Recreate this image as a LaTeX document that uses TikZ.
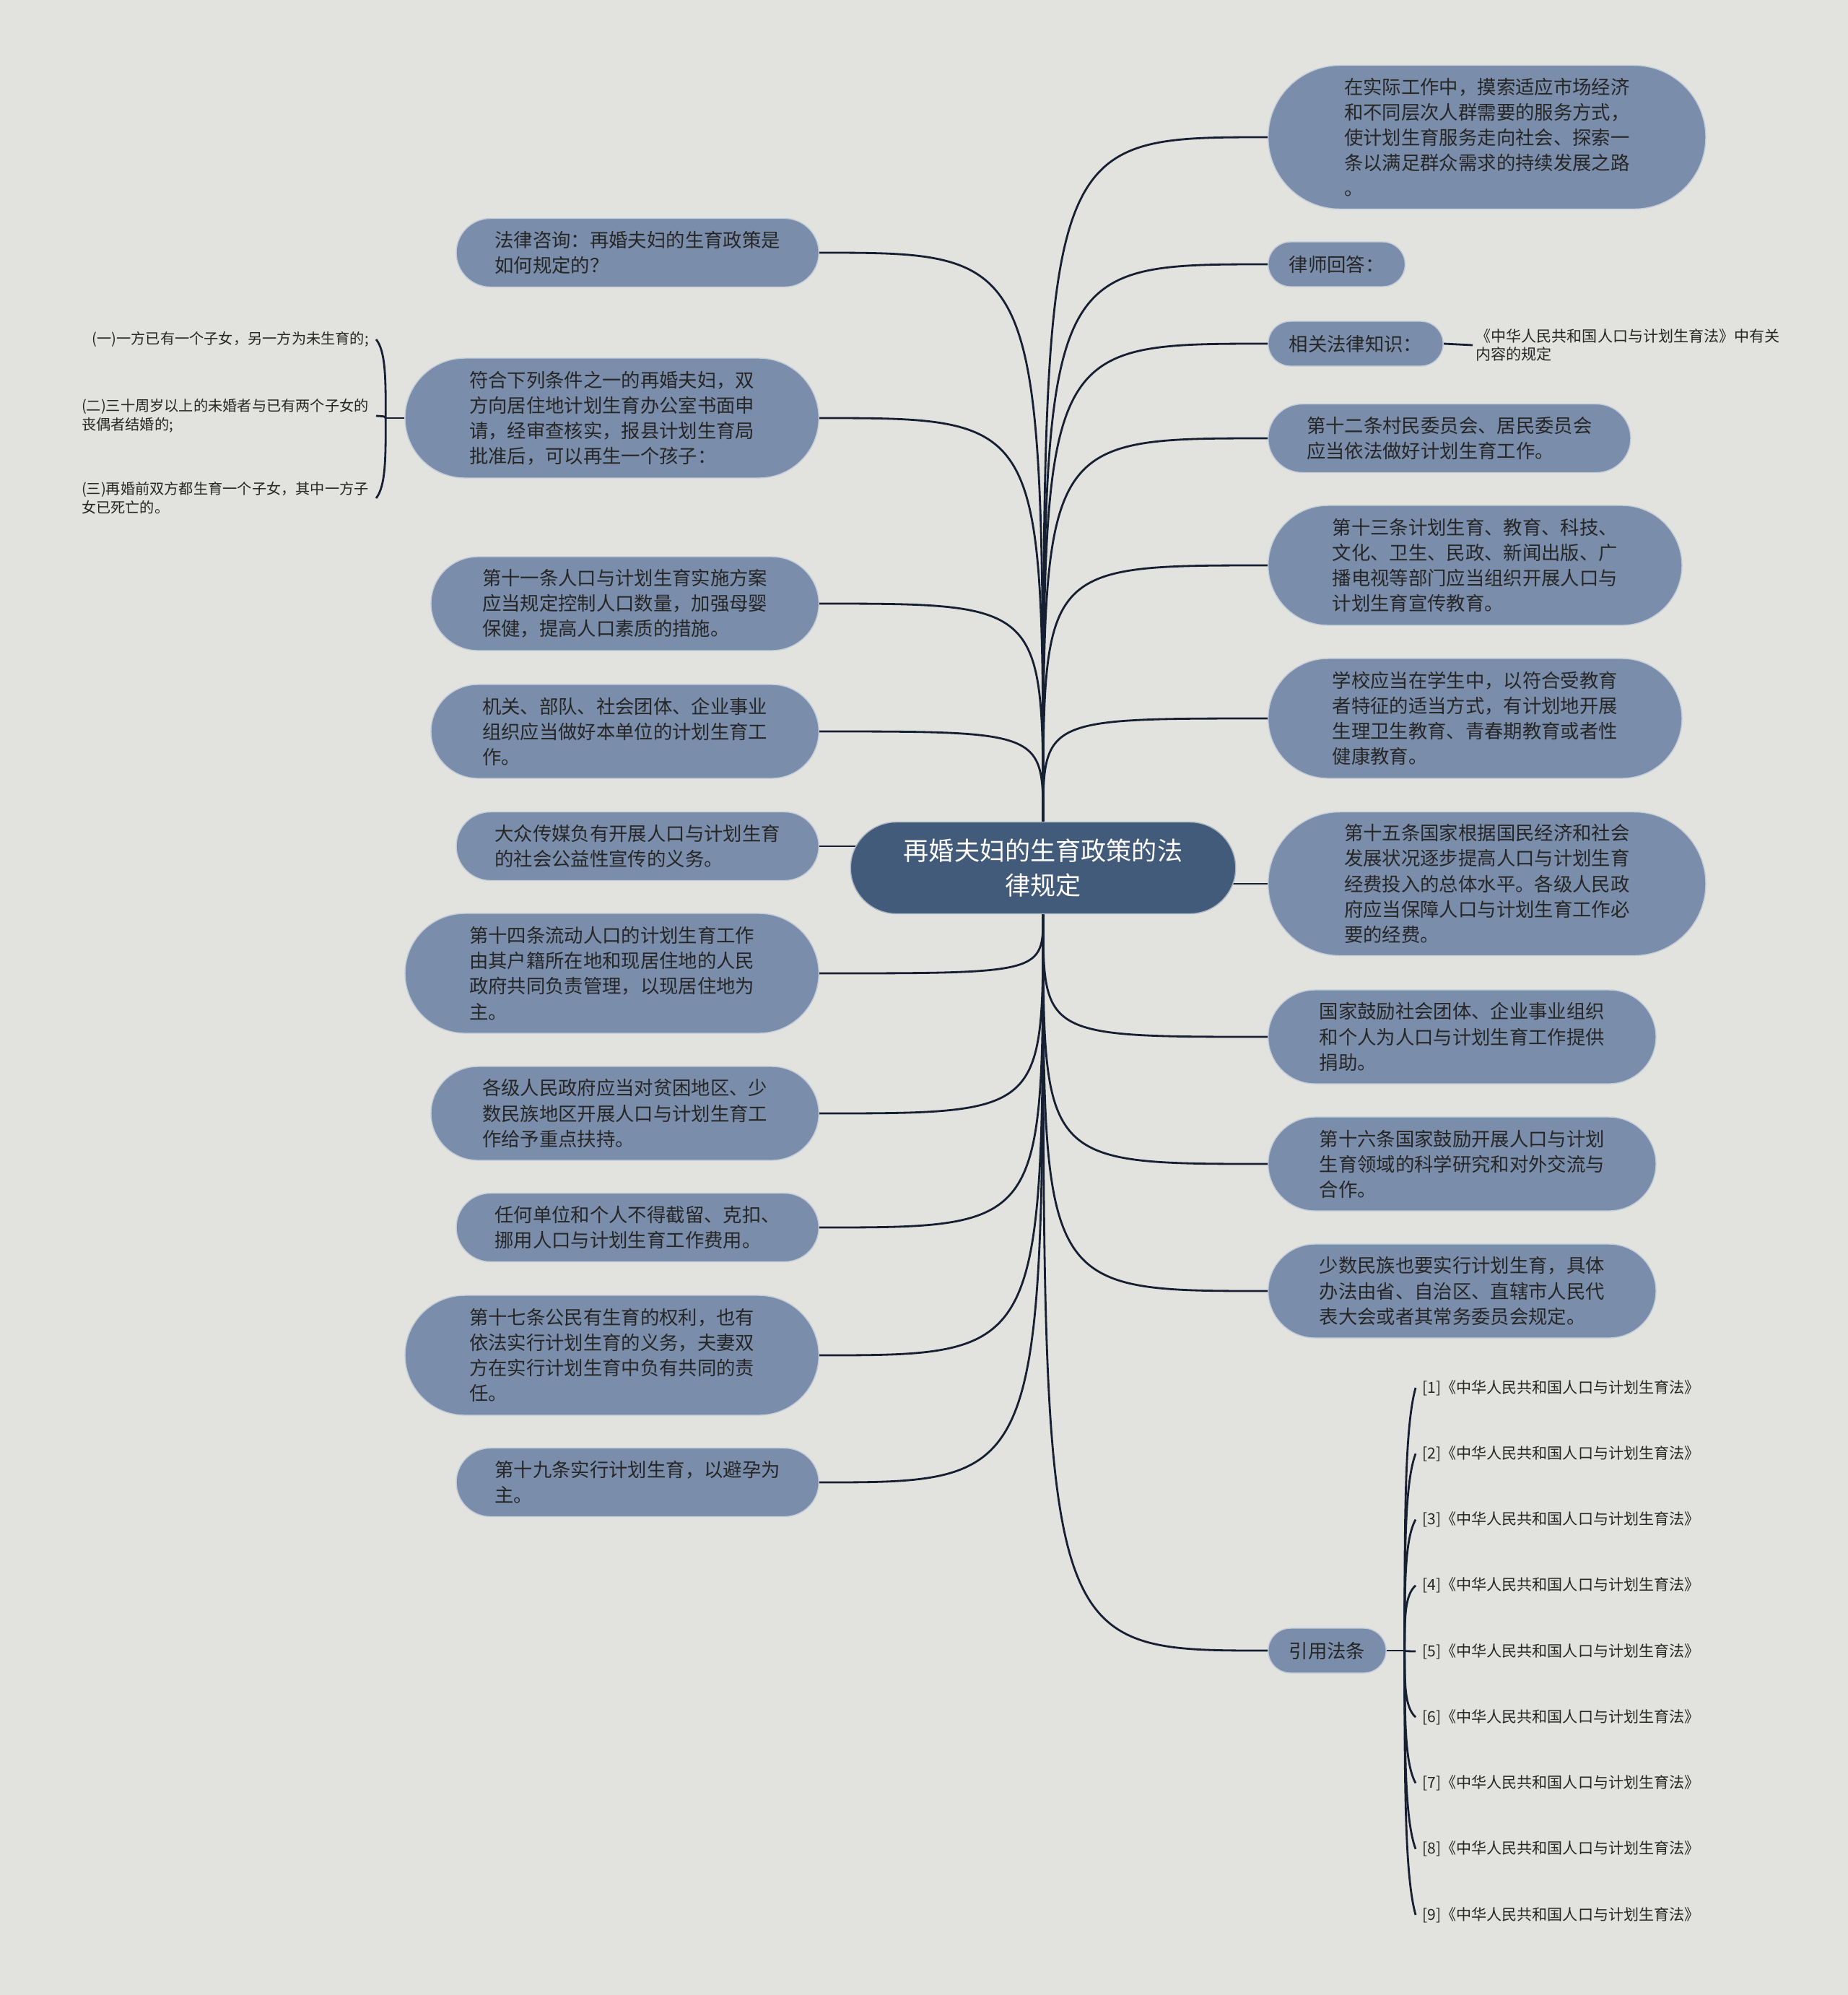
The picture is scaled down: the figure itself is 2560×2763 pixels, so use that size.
\documentclass[tikz,border=0pt]{standalone}
\usepackage{fontspec}
\setmainfont{Noto Sans CJK SC}
\usetikzlibrary{positioning, calc, backgrounds}
\definecolor{paper}{RGB}{226,227,223}
\definecolor{rootblue}{RGB}{66,91,122}
\definecolor{leafblue}{RGB}{122,141,170}
\definecolor{inkdark}{RGB}{22,32,50}
\definecolor{txtdark}{RGB}{38,38,38}

\tikzset{
  rootnode/.style={rectangle, rounded corners=1.27cm, minimum height=2.54cm, fill=rootblue,
    draw=white!55!rootblue, line width=0.8pt, text=white, font=\fontsize{20}{27}\selectfont,
    align=center, inner xsep=1.47cm, inner ysep=0.4cm},
  topicnode/.style={rectangle, rounded corners=#1, minimum height=2*#1, fill=leafblue,
    draw=white!55!leafblue, line width=0.8pt, text=txtdark, font=\fontsize{15}{20}\selectfont,
    align=left, inner xsep=#1+0.12cm, inner ysep=0.3cm},
  shortnode/.style={topicnode=0.62cm, inner xsep=0.58cm},
  notenode/.style={text=txtdark, font=\fontsize{11.5}{15}\selectfont, align=left, inner sep=0.2cm},
  citenode/.style={text=txtdark, font=\fontsize{12}{14}\selectfont, align=left, inner sep=0.18cm},
  linkline/.style={draw=inkdark, line width=1.6pt},
}

\begin{document}
\begin{tikzpicture}[x=0.02cm, y=-0.02cm]
\useasboundingbox (0,0) rectangle (2560,2763);

% centre
\node[rootnode] (root) at (1445,1202) {再婚夫妇的生育政策的法\\律规定};

% left topics
\node[topicnode=0.95cm, anchor=east] (l1) at (1135,350) {法律咨询：再婚夫妇的生育政策是\\如何规定的？};
\node[topicnode=1.66cm, anchor=east] (l2) at (1135,579) {符合下列条件之一的再婚夫妇，双\\方向居住地计划生育办公室书面申\\请，经审查核实，报县计划生育局\\批准后，可以再生一个孩子：};
\node[topicnode=1.3cm, anchor=east] (l3) at (1135,836) {第十一条人口与计划生育实施方案\\应当规定控制人口数量，加强母婴\\保健，提高人口素质的措施。};
\node[topicnode=1.3cm, anchor=east] (l4) at (1135,1013) {机关、部队、社会团体、企业事业\\组织应当做好本单位的计划生育工\\作。};
\node[topicnode=0.95cm, anchor=east] (l5) at (1135,1172) {大众传媒负有开展人口与计划生育\\的社会公益性宣传的义务。};
\node[topicnode=1.66cm, anchor=east] (l6) at (1135,1348) {第十四条流动人口的计划生育工作\\由其户籍所在地和现居住地的人民\\政府共同负责管理，以现居住地为\\主。};
\node[topicnode=1.3cm, anchor=east] (l7) at (1135,1542) {各级人民政府应当对贫困地区、少\\数民族地区开展人口与计划生育工\\作给予重点扶持。};
\node[topicnode=0.95cm, anchor=east] (l8) at (1135,1700) {任何单位和个人不得截留、克扣、\\挪用人口与计划生育工作费用。};
\node[topicnode=1.66cm, anchor=east] (l9) at (1135,1877) {第十七条公民有生育的权利，也有\\依法实行计划生育的义务，夫妻双\\方在实行计划生育中负有共同的责\\任。};
\node[topicnode=0.95cm, anchor=east] (l10) at (1135,2053) {第十九条实行计划生育，以避孕为\\主。};

% conditions under l2
\node[notenode, anchor=east] (c1) at (521,470) {(一)一方已有一个子女，另一方为未生育的;};
\node[notenode, anchor=east] (c2) at (521,576) {(二)三十周岁以上的未婚者与已有两个子女的\\丧偶者结婚的;};
\node[notenode, anchor=east] (c3) at (521,690) {(三)再婚前双方都生育一个子女，其中一方子\\女已死亡的。};

% right topics
\node[topicnode=1.99cm, anchor=west] (r1) at (1756,190) {在实际工作中，摸索适应市场经济\\和不同层次人群需要的服务方式，\\使计划生育服务走向社会、探索一\\条以满足群众需求的持续发展之路\\。};
\node[shortnode, anchor=west] (r2) at (1756,366) {律师回答：};
\node[shortnode, anchor=west] (r3) at (1756,476) {相关法律知识：};
\node[topicnode=0.95cm, anchor=west] (r4) at (1756,607) {第十二条村民委员会、居民委员会\\应当依法做好计划生育工作。};
\node[topicnode=1.66cm, anchor=west] (r5) at (1756,783) {第十三条计划生育、教育、科技、\\文化、卫生、民政、新闻出版、广\\播电视等部门应当组织开展人口与\\计划生育宣传教育。};
\node[topicnode=1.66cm, anchor=west] (r6) at (1756,995) {学校应当在学生中，以符合受教育\\者特征的适当方式，有计划地开展\\生理卫生教育、青春期教育或者性\\健康教育。};
\node[topicnode=1.99cm, anchor=west] (r7) at (1756,1224) {第十五条国家根据国民经济和社会\\发展状况逐步提高人口与计划生育\\经费投入的总体水平。各级人民政\\府应当保障人口与计划生育工作必\\要的经费。};
\node[topicnode=1.3cm, anchor=west] (r8) at (1756,1436) {国家鼓励社会团体、企业事业组织\\和个人为人口与计划生育工作提供\\捐助。};
\node[topicnode=1.3cm, anchor=west] (r9) at (1756,1612) {第十六条国家鼓励开展人口与计划\\生育领域的科学研究和对外交流与\\合作。};
\node[topicnode=1.3cm, anchor=west] (r10) at (1756,1788) {少数民族也要实行计划生育，具体\\办法由省、自治区、直辖市人民代\\表大会或者其常务委员会规定。};
\node[shortnode, anchor=west] (r11) at (1756,2286) {引用法条};

% notes on the right
\node[citenode, anchor=west, inner xsep=0.08cm] (lawnote) at (2040,478) {《中华人民共和国人口与计划生育法》中有关\\内容的规定};
\foreach \i in {1,...,9}
  \node[citenode, anchor=west] (q\i) at (1961,{1922+(\i-1)*91.25}) {[\i]《中华人民共和国人口与计划生育法》};

\begin{scope}[on background layer]
  \fill[paper] (0,0) rectangle (2560,2763);
  % fan from the centre
  \foreach \n in {l1,l2,l3,l4}
    \draw[linkline] (root.north) .. controls (root.north |- \n.east) .. (\n.east);
  \foreach \n in {l6,l7,l8,l9,l10}
    \draw[linkline] (root.south) .. controls (root.south |- \n.east) .. (\n.east);
  \foreach \n in {r1,r2,r3,r4,r5,r6}
    \draw[linkline] (root.north) .. controls (root.north |- \n.west) .. (\n.west);
  \foreach \n in {r8,r9,r10,r11}
    \draw[linkline] (root.south) .. controls (root.south |- \n.west) .. (\n.west);
  \draw[linkline] (root.center |- l5.east) -- (l5.east);
  \draw[linkline] (root.center |- r7.west) -- (r7.west);
  % brace to the conditions
  \draw[linkline] (l2.west) -- ++(-26,0) coordinate (fj);
  \foreach \c in {c1,c2,c3}
    \draw[linkline] (fj) .. controls ($(fj)!0.5!(fj |- \c.east)$) and ($(fj)!0.85!(fj |- \c.east)$) .. (\c.east);
  \draw[linkline] (r3.east) -- (lawnote.west);
  % cited laws
  \draw[linkline] (r11.east) -- ++(25,0) coordinate (cj);
  \foreach \i in {1,...,9}
    \draw[linkline] (cj) .. controls ($(cj)!0.5!(cj |- q\i.west)$) and ($(cj)!0.85!(cj |- q\i.west)$) .. (q\i.west);
\end{scope}
\end{tikzpicture}
\end{document}
